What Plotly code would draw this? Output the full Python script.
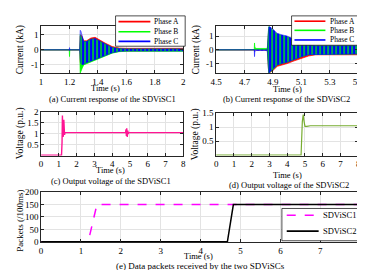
import plotly.graph_objects as go

# ---------------- data ----------------
# (a) current envelope of SDViSC1 (kA) around the 1.2-1.6 s event
ta = [1.0, 1.198, 1.2, 1.202, 1.272, 1.275, 1.28, 1.29, 1.30, 1.32, 1.35, 1.38, 1.41, 1.45, 1.50, 1.55, 1.60, 2.0]
a_hiA = [0, 0, 0, 0, 0, 0.9, 1.0, 0.85, 0.6, 0.6, 0.78, 0.83, 0.65, 0.45, 0.22, 0.12, 0.1, 0.1]
a_loA = [0, 0, 0, 0, 0, -0.8, -1.1, -1.0, -0.9, -0.8, -0.7, -0.6, -0.5, -0.35, -0.18, -0.08, -0.05, -0.05]
a_hiB = [0, 0, 0, 0, 0, 1.0, 0.9, 0.8, 0.55, 0.55, 0.7, 0.72, 0.58, 0.38, 0.15, 0.08, 0.05, 0.05]
a_loB = [0, 0, -0.45, 0, 0, -1.55, -1.55, -1.2, -1.0, -0.9, -0.8, -0.7, -0.58, -0.42, -0.22, -0.12, -0.10, -0.10]
a_hiC = [0, 0, 0.15, 0, 0, 1.3, 1.25, 0.9, 0.55, 0.55, 0.7, 0.75, 0.6, 0.4, 0.15, 0.08, 0.06, 0.06]
a_loC = [0, 0, -0.05, 0, 0, -0.6, -0.9, -1.0, -0.95, -0.85, -0.75, -0.65, -0.55, -0.4, -0.2, -0.1, -0.08, -0.08]

# (b) current envelope of SDViSC2 (kA) around the 4.77-5.2 s event
tb = [4.5, 4.768, 4.77, 4.772, 4.78, 4.86, 4.87, 4.875, 4.90, 4.93, 4.96, 5.00, 5.05, 5.10, 5.15, 5.20, 5.30, 5.5]
b_hiA = [0, 0, 0, 0, 0, 0, 1.5, 1.5, 1.3, 1.1, 1.0, 0.9, 0.7, 0.45, 0.3, 0.25, 0.25, 0.25]
b_loA = [0, 0, 0, 0, 0, 0, -1.7, -1.7, -1.5, -1.2, -1.1, -1.0, -0.8, -0.6, -0.45, -0.36, -0.36, -0.36]
b_hiB = [0, 0, 0.5, 0.2, 0.1, 0.1, 1.7, 1.7, 1.4, 1.15, 1.05, 0.95, 0.75, 0.5, 0.35, 0.3, 0.3, 0.3]
b_loB = [0, 0, 0, 0, 0.02, 0.02, -1.7, -1.7, -1.45, -1.1, -1.0, -0.9, -0.7, -0.5, -0.35, -0.3, -0.3, -0.3]
b_hiC = [0, 0, 0.05, 0, 0, 0, 1.7, 1.7, 1.5, 1.2, 1.1, 1.0, 0.75, 0.5, 0.35, 0.3, 0.3, 0.3]
b_loC = [0, 0, -0.5, -0.15, -0.05, -0.05, -1.7, -1.7, -1.4, -1.1, -1.0, -0.9, -0.7, -0.5, -0.35, -0.3, -0.3, -0.3]

# (c) output voltage of SDViSC1 (p.u.)
tc = [0, 1.15, 1.18, 1.20, 1.22, 1.24, 1.26, 1.28, 1.30, 1.32, 1.35, 1.40, 4.75, 4.78, 4.80, 4.82, 4.85, 4.88, 4.90, 4.95, 8]
vc = [0, 0, 0.6, 1.85, 1.2, 0.85, 1.0, 1.65, 1.1, 0.95, 1.08, 1.05, 1.05, 1.2, 0.9, 1.25, 0.85, 1.15, 1.0, 1.05, 1.05]

# (d) output voltage of SDViSC2 (p.u.)
td = [0, 4.78, 4.85, 4.90, 4.95, 5.00, 5.10, 5.30, 8]
vd = [0, 0, 1.2, 1.45, 1.2, 1.03, 1.03, 1.05, 1.05]

# (e) data packets received (/100ms)
te1 = [0, 1.18, 1.40, 8]
pe1 = [0, 0, 150, 150]
te2 = [0, 4.67, 4.82, 8]
pe2 = [0, 0, 150, 150]

phase_names = ["Phase A", "Phase B", "Phase C"]
sd_names = ["SDViSC1", "SDViSC2"]

xt_a = [1, 1.2, 1.4, 1.6, 1.8, 2]
xt_b = [4.5, 4.7, 4.9, 5.1, 5.3, 5.5]
xt_8 = [0, 1, 2, 3, 4, 5, 6, 7, 8]
yt_cur = [-1, 0, 1]
yt_c = [0.5, 1, 1.5, 2]
yt_d = [0.5, 1, 1.5]
yt_e = [0, 50, 100, 150, 200]

captions = ["(a) Current response of the SDViSC1", "(b) Current response of the SDViSC2",
            "(c) Output voltage of the SDViSC1", "(d) Output voltage of the SDViSC2",
            "(e) Data packets received by the two SDViSCs"]

# ---------------- styling ----------------
W, H = 365, 270
FONT = "Liberation Serif"
RED, GREEN, BLUE = "#FF0000", "#00FF00", "#0000FF"
PINK, OLIVE, MAG = "#FF1493", "#77AC30", "#FF00FF"
AXC = "#262626"
GRID = "#E3E3E3"


def px(x):
    return x / W


def py(y):
    return 1 - y / H


fig = go.Figure()


def band(t, hi, lo, color, xa, ya, pattern=False):
    xs = list(t) + list(t)[::-1]
    ys = list(hi) + list(lo)[::-1]
    kw = dict(x=xs, y=ys, mode="lines", fill="toself", line=dict(color=color, width=0.7),
              fillcolor=color, xaxis=xa, yaxis=ya, showlegend=False, hoverinfo="skip")
    if pattern:
        kw["fillpattern"] = dict(shape="|", size=4, solidity=0.5, fgcolor=color, fgopacity=1,
                                 bgcolor="rgba(0,0,255,0.3)")
        kw["line"] = dict(color=color, width=0.5)
    fig.add_trace(go.Scatter(**kw))


band(ta, a_hiA, a_loA, RED, "x", "y")
band(ta, a_hiB, a_loB, GREEN, "x", "y")
band(ta, a_hiC, a_loC, BLUE, "x", "y", pattern=True)

band(tb, b_hiA, b_loA, RED, "x2", "y2")
band(tb, b_hiB, b_loB, GREEN, "x2", "y2")
band(tb, b_hiC, b_loC, BLUE, "x2", "y2", pattern=True)

fig.add_trace(go.Scatter(x=tc, y=vc, mode="lines", line=dict(color=PINK, width=1.4),
                         xaxis="x3", yaxis="y3", showlegend=False))
fig.add_trace(go.Scatter(x=td, y=vd, mode="lines", line=dict(color=OLIVE, width=1.2),
                         xaxis="x4", yaxis="y4", showlegend=False))
fig.add_trace(go.Scatter(x=te1, y=pe1, mode="lines", name=sd_names[0],
                         line=dict(color=MAG, width=1.5, dash="dash"),
                         xaxis="x5", yaxis="y5", showlegend=False))
fig.add_trace(go.Scatter(x=te2, y=pe2, mode="lines", name=sd_names[1],
                         line=dict(color="black", width=1.5),
                         xaxis="x5", yaxis="y5", showlegend=False))

tickfont = dict(family=FONT, size=9, color="black")


def axis(dom, rng, tickvals, anchor):
    return dict(domain=dom, range=rng, tickvals=tickvals, ticktext=[f"{v:g}" for v in tickvals],
                showline=True, mirror="ticks", linecolor=AXC, linewidth=0.8,
                ticks="inside", ticklen=3, tickcolor=AXC, tickwidth=0.8,
                showgrid=True, gridcolor=GRID, gridwidth=0.6, zeroline=False,
                tickfont=tickfont, anchor=anchor, ticklabelstandoff=0)


XL = [px(28), px(175)]
XR = [px(209), px(356)]
YT = [py(62.5), py(14)]
YM_L = [py(148), py(103)]
YM_R = [py(148), py(104)]
YB = [py(238), py(186)]

fig.update_layout(
    width=W, height=H, margin=dict(l=0, r=0, t=0, b=0),
    paper_bgcolor="white", plot_bgcolor="white",
    font=dict(family=FONT, size=9, color="black"),
    xaxis=axis(XL, [1, 2], xt_a, "y"),
    yaxis=axis(YT, [-1.55, 1.55], yt_cur, "x"),
    xaxis2=axis(XR, [4.5, 5.5], xt_b, "y2"),
    yaxis2=axis(YT, [-1.7, 1.7], yt_cur, "x2"),
    xaxis3=axis(XL, [0, 8], xt_8, "y3"),
    yaxis3=axis(YM_L, [-0.015, 2], yt_c, "x3"),
    xaxis4=axis(XR, [0, 8], xt_8, "y4"),
    yaxis4=axis(YM_R, [-0.012, 1.5], yt_d, "x4"),
    xaxis5=axis([px(28), px(358)], [0, 8], xt_8, "y5"),
    yaxis5=axis(YB, [-1.5, 200], yt_e, "x5"),
)

ann = []
shapes = []


def text(x, y, s, size=9, angle=0, xanchor="center"):
    ann.append(dict(x=px(x), y=py(y), xref="paper", yref="paper", text=s, showarrow=False,
                    font=dict(family=FONT, size=size, color="black"), textangle=angle,
                    xanchor=xanchor, yanchor="middle", borderpad=0))


# axis titles
text(95, 78, "Time (s)", 8.5)
text(283, 78.5, "Time (s)", 8.5)
text(100, 163, "Time (s)", 8.5)
text(283, 168, "Time (s)", 8.5)
text(191, 252.5, "Time (s)", 8.5)
text(7, 38, "Current (kA)", 9.5, -90)
text(189, 38, "Current (kA)", 9.5, -90)
text(7, 125, "Voltage (p.u.)", 9.5, -90)
text(188, 126, "Voltage (p.u.)", 9.5, -90)
text(6, 216, "Packets (/100ms)", 9, -90)

# captions
text(102, 89.5, captions[0], 8.5)
text(282, 89.5, captions[1], 8.5)
text(100, 174.5, captions[2], 8.5)
text(284, 179, captions[3], 8.5)
text(193, 262.8, captions[4], 9)


def legend_box(x0, y0, x1, y1, entries, lx0, lx1, tx, size):
    shapes.append(dict(type="rect", xref="paper", yref="paper", x0=px(x0), x1=px(x1),
                       y0=py(y1), y1=py(y0), line=dict(color="black", width=0.7),
                       fillcolor="white", layer="above"))
    for (yy, name, color, dash) in entries:
        shapes.append(dict(type="line", xref="paper", yref="paper", x0=px(lx0), x1=px(lx1),
                           y0=py(yy), y1=py(yy), line=dict(color=color, width=1.6, dash=dash),
                           layer="above"))
        text(tx, yy, name, size, 0, "left")


legend_box(105, 3, 177, 34.5,
           [(9, phase_names[0], RED, "solid"), (19.5, phase_names[1], GREEN, "solid"),
            (29.5, phase_names[2], BLUE, "solid")], 108, 141, 144, 7.5)
legend_box(287, 3, 363, 33.5,
           [(8.5, phase_names[0], RED, "solid"), (18, phase_names[1], GREEN, "solid"),
            (28, phase_names[2], BLUE, "solid")], 290, 322, 326, 7.5)
legend_box(277, 203, 357, 236.5,
           [(210, sd_names[0], MAG, "dash"), (226.5, sd_names[1], "black", "solid")],
           282, 315, 318, 8.5)

fig.update_layout(annotations=ann, shapes=shapes)
fig.write_html("out.html")
